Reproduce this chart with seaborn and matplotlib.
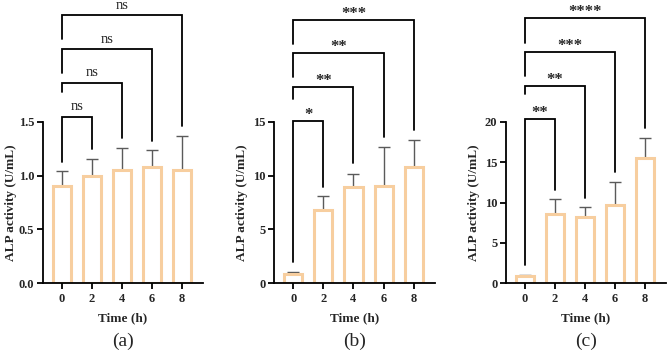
import matplotlib
matplotlib.use("Agg")
import matplotlib.pyplot as plt
import seaborn as sns
import pandas as pd

# data (mean and top of error bar)
times = ["0", "2", "4", "6", "8"]
a_mean = [0.90, 1.00, 1.055, 1.08, 1.055]
a_upper = [1.04, 1.155, 1.255, 1.236, 1.373]
b_mean = [0.88, 6.8, 8.98, 9.04, 10.78]
b_upper = [1.0, 8.1, 10.2, 12.7, 13.3]
c_mean = [0.83, 8.6, 8.19, 9.73, 15.47]
c_upper = [1.0, 10.44, 9.48, 12.6, 17.96]

# significance brackets vs 0 h: (index of group, top, left leg end, right leg end, label)
a_sig = [(1, 1.549, 1.13, 1.246, "ns"), (2, 1.866, 1.78, 1.348, "ns"),
         (3, 2.177, 1.96, 1.326, "ns"), (4, 2.494, 2.27, 1.463, "ns")]
b_sig = [(1, 15.12, 1.93, 8.97, "*"), (2, 18.23, 17.14, 11.15, "**"),
         (3, 21.4, 19.2, 13.6, "**"), (4, 24.5, 22.3, 14.25, "***")]
c_sig = [(1, 20.4, 2.2, 11.6, "**"), (2, 24.5, 23.5, 10.6, "**"),
         (3, 28.7, 25.7, 13.8, "***"), (4, 32.9, 29.85, 19.2, "****")]

panels = [
    ("(a)", a_mean, a_upper, a_sig, 1.5, [0.0, 0.5, 1.0, 1.5], ["0.0", "0.5", "1.0", "1.5"]),
    ("(b)", b_mean, b_upper, b_sig, 15, [0, 5, 10, 15], ["0", "5", "10", "15"]),
    ("(c)", c_mean, c_upper, c_sig, 20, [0, 5, 10, 15, 20], ["0", "5", "10", "15", "20"]),
]

sns.set_style("ticks")
plt.rcParams["font.family"] = ["Liberation Serif", "DejaVu Serif"]

edge = "#F7CE9F"
err_col = "#5a5a5a"

fig = plt.figure(figsize=(6.69, 3.52), dpi=100)
lefts = [42.7, 274.3, 505.7]

for left, (tag, mean, upper, sig, ymax, yticks, ylabels) in zip(lefts, panels):
    ax = fig.add_axes([left / 669, 69 / 352, 160.5 / 669, 283 / 352])
    df = pd.DataFrame({"time": times, "mean": mean, "upper": upper})
    sns.barplot(data=df, x="time", y="mean", order=times, color="white",
                edgecolor=edge, linewidth=2.2, width=0.6, saturation=1,
                errorbar=None, ax=ax, zorder=2)
    err = [u - m for u, m in zip(upper, mean)]
    ax.errorbar(range(len(times)), mean, yerr=[[0] * len(times), err], fmt="none",
                ecolor=err_col, elinewidth=1.0, capsize=4.5, capthick=1.0, zorder=1)

    for k, top, lb, rb, lab in sig:
        ax.plot([0, 0, k, k], [lb, top, top, rb], color="black", lw=1.3,
                solid_joinstyle="miter", clip_on=False, zorder=3)
        if lab == "ns":
            ax.annotate(lab, xy=(k / 2, top), xytext=(0, 4.5), textcoords="offset points",
                        ha="center", va="baseline", fontsize=10.5)
        else:
            ax.annotate(lab, xy=(k / 2, top), xytext=(0, 1.5), textcoords="offset points",
                        ha="center", va="baseline", fontsize=12, fontweight="bold")

    ytop = ymax * 283 / 161
    ax.set_xlim(-0.63, 4.7)
    ax.set_ylim(0, ytop)
    ax.set_yticks(yticks)
    ax.set_yticklabels(ylabels)
    sns.despine(ax=ax)
    ax.spines["left"].set_bounds(0, ymax)
    for s in ["left", "bottom"]:
        ax.spines[s].set_linewidth(1.3)
        ax.spines[s].set_color("black")
    ax.tick_params(axis="both", length=4, width=1.3, color="black", pad=2,
                   labelsize=9)
    ax.tick_params(axis="x", pad=3.5)
    for t in ax.get_xticklabels() + ax.get_yticklabels():
        t.set_fontweight("bold")
    ax.set_xlabel("Time (h)", fontsize=9.5, fontweight="bold", labelpad=5)
    ax.set_ylabel("ALP activity (U/mL)", fontsize=9.5, fontweight="bold", va="center")
    ax.yaxis.set_label_coords(-0.2, ymax / 2 / ytop)
    ax.text(0.5, -0.205, tag, transform=ax.transAxes, ha="center", va="center", fontsize=14)

fig.savefig("out.png", dpi=100)
